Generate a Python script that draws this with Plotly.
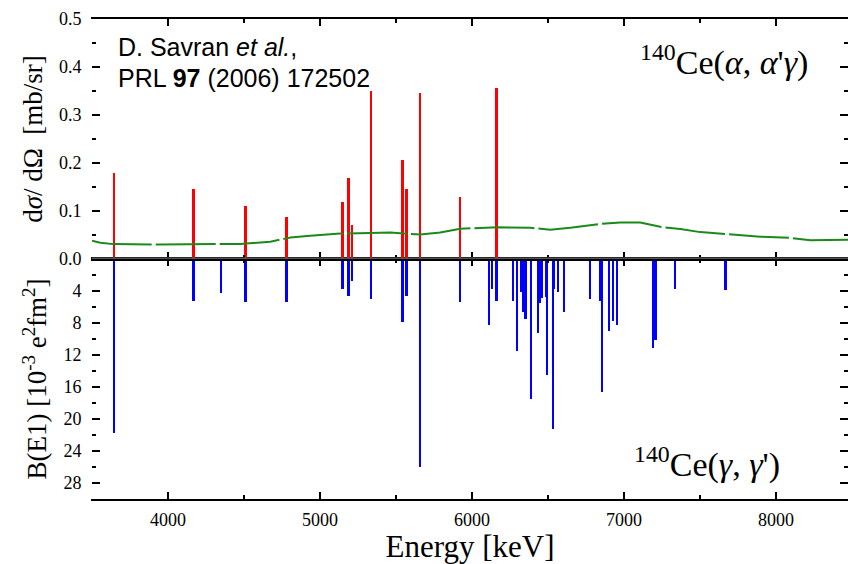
import plotly.graph_objects as go

# ---- data ----
red_energy = [3647, 4170, 4512, 4782, 5150, 5188, 5211, 5336, 5546, 5572, 5658, 5923, 6164]
red_xsec = [0.179, 0.145, 0.110, 0.087, 0.118, 0.169, 0.071, 0.351, 0.206, 0.145, 0.346, 0.129, 0.356]

blue_energy = [3647, 4170, 4351, 4512, 4782, 5150, 5188, 5211, 5336, 5546, 5572, 5658, 5923,
               6114, 6134, 6164, 6272, 6298, 6324, 6341, 6354, 6390, 6436, 6449, 6462, 6489,
               6495, 6535, 6541, 6567, 6607, 6778, 6844, 6857, 6903, 6930, 6956, 7193, 7209,
               7337, 7671]
blue_be1 = [21.8, 5.2, 4.3, 5.4, 5.4, 3.8, 4.6, 2.8, 5.0, 7.9, 4.6, 26.0, 5.4,
            8.3, 3.8, 5.3, 5.2, 11.5, 4.1, 6.6, 7.5, 17.5, 9.2, 5.5, 4.9, 4.8,
            14.5, 21.3, 3.7, 4.1, 6.6, 5.0, 5.3, 16.6, 9.0, 7.7, 8.3, 11.1, 10.1,
            3.7, 3.9]

bg_energy = [3500, 3555, 3640, 3950, 4310, 4476, 4673, 4805, 4936, 5133, 5331, 5462, 5660,
             5791, 5923, 6054, 6166, 6384, 6515, 6647, 6844, 6976, 7107, 7239, 7371, 7502,
             7699, 7897, 8094, 8226, 8500]
bg_xsec = [0.038, 0.034, 0.031, 0.030, 0.031, 0.031, 0.036, 0.045, 0.0485, 0.053, 0.054, 0.055,
           0.051, 0.055, 0.063, 0.065, 0.066, 0.065, 0.061, 0.065, 0.073, 0.076, 0.076, 0.067,
           0.0625, 0.056, 0.051, 0.0465, 0.044, 0.039, 0.040]

x_range = [3500, 8474]
top_ticks = [0.0, 0.1, 0.2, 0.3, 0.4, 0.5]
bottom_ticks = [4, 8, 12, 16, 20, 24, 28]
bottom_minor = [2, 6, 10, 14, 18, 22, 26]

SERIF = "Liberation Serif, Times New Roman, serif"
SANS = "Liberation Sans, Arial, sans-serif"

fig = go.Figure()

fig.add_trace(go.Scatter(x=bg_energy, y=bg_xsec, mode="lines", xaxis="x2", yaxis="y2",
                         line=dict(color="#1a8a1a", width=2, dash="60px,4px"),
                         showlegend=False, hoverinfo="skip"))
fig.add_trace(go.Bar(x=red_energy, y=red_xsec, width=13, xaxis="x2", yaxis="y2",
                     marker=dict(color="#ff0000", line=dict(width=0)), showlegend=False))
fig.add_trace(go.Bar(x=blue_energy, y=blue_be1, width=13, xaxis="x", yaxis="y",
                     marker=dict(color="#0000ff", line=dict(width=0)), showlegend=False))

tickfont = dict(family=SERIF, size=18, color="black")

fig.update_layout(
    width=848, height=564,
    margin=dict(l=92, r=0, t=19, b=65),
    paper_bgcolor="white", plot_bgcolor="white",
    bargap=0, barmode="overlay",
    font=dict(family=SERIF, color="black"),
    xaxis=dict(domain=[0, 1], anchor="y", range=x_range, showgrid=False, zeroline=False,
               showline=True, linecolor="black", linewidth=1.5, mirror="allticks",
               ticks="inside", ticklen=7, tickwidth=1.5, tickcolor="black",
               tick0=0, dtick=1000, tickfont=tickfont, ticklabelstandoff=4,
               minor=dict(ticks="inside", ticklen=4, tickwidth=1.5, tickcolor="black", dtick=500, tick0=0),
               title=dict(text="Energy [keV]", font=dict(family=SERIF, size=31), standoff=4)),
    xaxis2=dict(domain=[0, 1], anchor="y2", matches="x", showgrid=False, zeroline=False,
                showline=True, linecolor="black", linewidth=1.5, mirror="allticks",
                ticks="inside", ticklen=7, tickwidth=1.5, tickcolor="black",
                tick0=0, dtick=1000, showticklabels=False,
                minor=dict(ticks="inside", ticklen=4, tickwidth=1.5, tickcolor="black", dtick=500, tick0=0)),
    yaxis=dict(domain=[0, 0.5], anchor="x", range=[30, 0], showgrid=False, zeroline=False,
               showline=True, linecolor="rgba(0,0,0,0)", mirror="ticks",
               ticks="inside", ticklen=8, tickwidth=1.5, tickcolor="black",
               tickvals=bottom_ticks, tickfont=tickfont, ticklabelstandoff=6,
               minor=dict(ticks="inside", ticklen=4, tickwidth=1.5, tickcolor="black", tickvals=bottom_minor),
               title=dict(text="B(E1) [10<sup>-3</sup> e<sup>2</sup>fm<sup>2</sup>]",
                          font=dict(family=SERIF, size=27), standoff=8)),
    yaxis2=dict(domain=[0.5, 1], anchor="x2", range=[0, 0.5], showgrid=False, zeroline=False,
                showline=True, linecolor="rgba(0,0,0,0)", mirror="ticks",
                ticks="inside", ticklen=8, tickwidth=1.5, tickcolor="black",
                tickvals=top_ticks, tickformat=".1f", tickfont=tickfont, ticklabelstandoff=6,
                minor=dict(ticks="inside", ticklen=4, tickwidth=1.5, tickcolor="black", dtick=0.05, tick0=0),
                title=dict(text="d<i>σ</i>/ dΩ  [mb/sr]", font=dict(family=SERIF, size=27), standoff=8)),
    shapes=[dict(type="line", xref="paper", yref="y2", x0=0, x1=1, y0=0, y1=0,
                 line=dict(color="#555555", width=3), layer="above")],
)

def px_x(px):
    return (px - 92) / 756

def px_y(py):
    return (499 - py) / 480

fig.add_annotation(x=px_x(116), y=px_y(47), xref="paper", yref="paper", xanchor="left", yanchor="middle",
                   text="D. Savran <i>et al.</i>,", showarrow=False,
                   font=dict(family=SANS, size=25, color="black"))
fig.add_annotation(x=px_x(116), y=px_y(78), xref="paper", yref="paper", xanchor="left", yanchor="middle",
                   text="PRL <b>97</b> (2006) 172502", showarrow=False,
                   font=dict(family=SANS, size=25, color="black"))
fig.add_annotation(x=px_x(810), y=px_y(60), xref="paper", yref="paper", xanchor="right", yanchor="middle",
                   text="<sup>140</sup>Ce(<i>α</i>, <i>α</i>'<i>γ</i>)", showarrow=False,
                   font=dict(family=SERIF, size=34, color="black"))
fig.add_annotation(x=px_x(782), y=px_y(462), xref="paper", yref="paper", xanchor="right", yanchor="middle",
                   text="<sup>140</sup>Ce(<i>γ</i>, <i>γ</i>')", showarrow=False,
                   font=dict(family=SERIF, size=34, color="black"))

fig.write_html("out.html")
